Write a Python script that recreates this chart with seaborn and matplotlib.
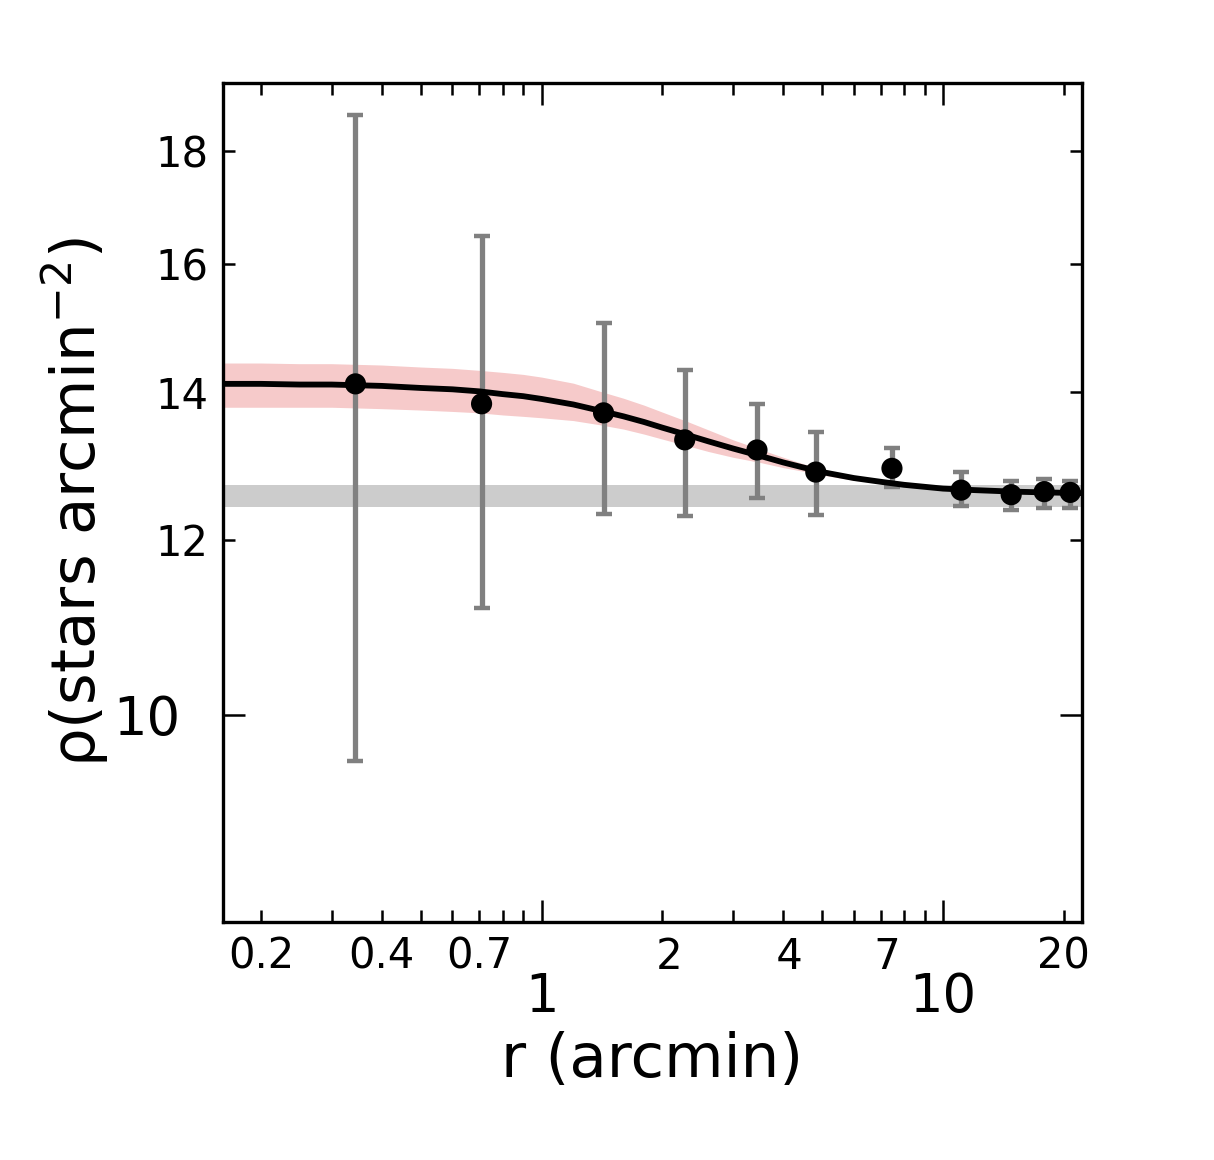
import numpy as np
import pandas as pd
import matplotlib
matplotlib.use("Agg")
import matplotlib.pyplot as plt
import matplotlib.ticker as mticker
import seaborn as sns

# binned radial density profile
r_bins = [0.344, 0.709, 1.427, 2.273, 3.44, 4.82, 7.46, 11.09, 14.78, 17.86, 20.74]
rho = [14.12, 13.83, 13.70, 13.32, 13.18, 12.88, 12.93, 12.64, 12.58, 12.62, 12.61]
rho_hi = [18.68, 16.47, 15.04, 14.33, 13.83, 13.43, 13.21, 12.88, 12.76, 12.79, 12.76]
rho_lo = [9.53, 11.18, 12.33, 12.30, 12.54, 12.32, 12.68, 12.43, 12.38, 12.41, 12.41]

# fitted profile and its uncertainty band
r_fit = [0.16, 0.2, 0.25, 0.3, 0.4, 0.5, 0.6, 0.7, 0.8, 0.9, 1.0, 1.2, 1.4, 1.6, 1.8, 2.0,
         2.3, 2.6, 3.0, 3.5, 4.0, 4.5, 5.0, 6.0, 7.0, 8.0, 10, 12, 15, 18, 22.3]
rho_fit = [14.12, 14.12, 14.11, 14.11, 14.09, 14.06, 14.04, 14.01, 13.97, 13.94, 13.90,
           13.82, 13.73, 13.65, 13.57, 13.49, 13.39, 13.30, 13.20, 13.10, 13.01, 12.94,
           12.88, 12.80, 12.75, 12.71, 12.66, 12.64, 12.62, 12.61, 12.60]
fit_hi = [14.43, 14.43, 14.42, 14.42, 14.40, 14.37, 14.35, 14.32, 14.29, 14.26, 14.22,
          14.13, 14.01, 13.91, 13.81, 13.71, 13.58, 13.46, 13.32, 13.19, 13.08, 12.99,
          12.92, 12.83, 12.77, 12.72, 12.67, 12.645, 12.625, 12.615, 12.605]
fit_lo = [13.78, 13.78, 13.78, 13.78, 13.76, 13.74, 13.72, 13.70, 13.67, 13.65, 13.63,
          13.59, 13.53, 13.47, 13.40, 13.33, 13.24, 13.16, 13.08, 13.01, 12.94, 12.89,
          12.84, 12.77, 12.73, 12.695, 12.65, 12.63, 12.61, 12.60, 12.59]

# background level band
bg_lo, bg_hi = 12.42, 12.71

x_major = [1, 10]
x_minor = [0.2, 0.3, 0.4, 0.5, 0.6, 0.7, 0.8, 0.9, 2, 3, 4, 5, 6, 7, 8, 9, 20]
x_minor_labels = ["0.2", "", "0.4", "", "", "0.7", "", "", " 2", "", " 4", "", "", " 7", "", "", "20"]
y_major = [10]
y_minor = [12, 14, 16, 18]

sns.set_style("ticks", rc={"text.color": "black", "axes.labelcolor": "black",
                           "xtick.color": "black", "ytick.color": "black",
                           "axes.edgecolor": "black"})
plt.rcParams["font.family"] = ["DejaVu Sans"]

fig = plt.figure(figsize=(6.07, 5.8), dpi=200)
ax = fig.add_axes([0.1833, 0.2052, 0.708, 0.7233])
ax.set_xscale("log")
ax.set_yscale("log")
ax.set_xlim(0.1605, 22.19)
ax.set_ylim(8.06, 19.32)

ax.axhspan(bg_lo, bg_hi, color="#cccccc", lw=0, zorder=1)
ax.fill_between(r_fit, fit_lo, fit_hi, color="#f6caca", lw=0, zorder=2)

yerr = [np.array(rho) - np.array(rho_lo), np.array(rho_hi) - np.array(rho)]
ax.errorbar(r_bins, rho, yerr=yerr, fmt="none", ecolor="#808080",
            elinewidth=1.9, capsize=3.0, capthick=1.6, zorder=3)

fit_df = pd.DataFrame({"r": r_fit, "rho": rho_fit})
sns.lineplot(data=fit_df, x="r", y="rho", color="black", lw=2.1, sort=False,
             estimator=None, ax=ax, zorder=4)

pts = pd.DataFrame({"r": r_bins, "rho": rho})
sns.scatterplot(data=pts, x="r", y="rho", color="black", s=58, edgecolor="none",
                ax=ax, zorder=5)

ax.xaxis.set_major_locator(mticker.FixedLocator(x_major))
ax.xaxis.set_major_formatter(mticker.FixedFormatter(["1", "10"]))
ax.xaxis.set_minor_locator(mticker.FixedLocator(x_minor))
ax.xaxis.set_minor_formatter(mticker.FixedFormatter(x_minor_labels))
ax.yaxis.set_major_locator(mticker.FixedLocator(y_major))
ax.yaxis.set_major_formatter(mticker.FixedFormatter(["10"]))
ax.yaxis.set_minor_locator(mticker.FixedLocator(y_minor))
ax.yaxis.set_minor_formatter(mticker.FixedFormatter([str(v) for v in y_minor]))

ax.tick_params(which="both", direction="in", top=True, right=True, color="black")
ax.tick_params(which="major", length=8, width=0.9)
ax.tick_params(which="minor", length=4.2, width=0.9)
ax.tick_params(axis="x", which="major", pad=17.5, labelsize=19)
ax.tick_params(axis="x", which="minor", pad=5, labelsize=15)
ax.tick_params(axis="y", which="major", pad=15, labelsize=19)
ax.tick_params(axis="y", which="minor", pad=5, labelsize=15)
for s in ax.spines.values():
    s.set_linewidth(1.2)
    s.set_color("black")

ax.set_xlabel("r (arcmin)", fontsize=22, labelpad=3)
ax.set_ylabel("ρ(stars arcmin$^{-2}$)", fontsize=22, labelpad=1)

fig.savefig("out.png", dpi=200)
